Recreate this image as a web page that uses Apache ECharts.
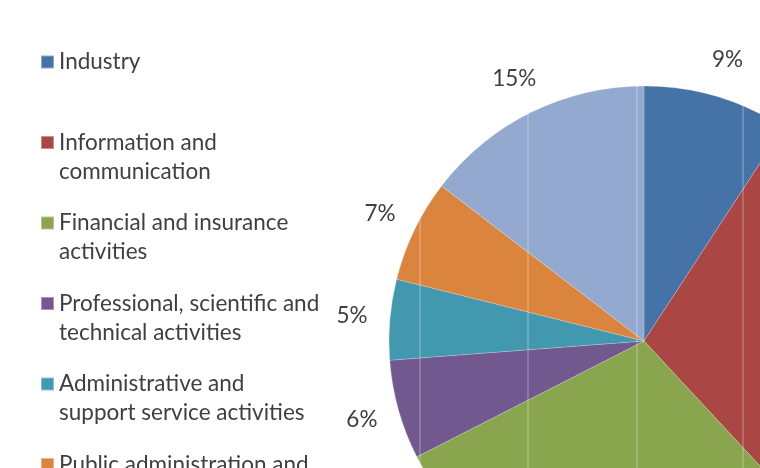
<!DOCTYPE html>
<html>
<head>
<meta charset="utf-8">
<script src="https://cdn.jsdelivr.net/npm/echarts@6/dist/echarts.min.js"></script>
<style>
  html, body { margin: 0; padding: 0; background: #fff; }
  #chart { width: 760px; height: 468px; }
</style>
</head>
<body>
<div id="chart"></div>
<script>
// Sectors (legend order, clockwise from 12 o'clock)
const sectors = [
  'Industry',
  'Information and\ncommunication',
  'Financial and insurance\nactivities',
  'Professional, scientific and\ntechnical activities',
  'Administrative and\nsupport service activities',
  'Public administration and\ndefence',
  'Other activities'
]
// shares in % (labels show them rounded)
const shares = [9.2, 28.9, 29.4, 6.3, 5.1, 6.5, 14.6]
const colors = ['#4572a7', '#aa4643', '#89a54e', '#71588f', '#4198af', '#db843d', '#93a9cf']

const pieData = sectors.map((name, i) => ({ name, value: shares[i] }))

const chart = echarts.init(document.getElementById('chart'))

// faint vertical streaks seen across the pie in the source image
const streaks = [420, 528, 637, 743].map(x => ({
  type: 'line',
  shape: { x1: x, y1: 0, x2: x, y2: 468 },
  style: { stroke: 'rgba(255,255,255,0.4)', lineWidth: 1 },
  z: 10,
  silent: true
}))

chart.setOption({
  animation: false,
  color: colors,
  legend: {
    orient: 'vertical',
    left: 40,
    top: 18.5,
    height: 2000,
    padding: 0,
    icon: 'rect',
    itemWidth: 13,
    itemHeight: 13,
    itemGap: -6.5,
    selectedMode: false,
    // leading blank line keeps the icon level with the first text line
    formatter: name => '\n' + (name.includes('\n') ? name : name + '\n '),
    textStyle: {
      fontFamily: 'Lato',
      fontSize: 22.5,
      color: '#404040',
      lineHeight: 29
    }
  },
  graphic: streaks,
  series: [
    {
      type: 'pie',
      center: [644, 341],
      radius: [0, 255],
      startAngle: 90,
      clockwise: true,
      silent: true,
      label: { show: false },
      labelLine: { show: false },
      itemStyle: { borderColor: 'rgba(255,255,255,0.4)', borderWidth: 0.5 },
      data: pieData
    },
    {
      // percentage labels sit on a ring just outside the pie
      type: 'pie',
      center: [644, 341],
      radius: [280, 300],
      startAngle: 90,
      clockwise: true,
      silent: true,
      legendHoverLink: false,
      percentPrecision: 0,
      itemStyle: { color: 'rgba(0,0,0,0)' },
      label: {
        show: true,
        position: 'inside',
        formatter: '{d}%',
        fontFamily: 'Lato',
        fontSize: 22.5,
        color: '#404040'
      },
      labelLine: { show: false },
      data: pieData
    }
  ]
})
</script>
</body>
</html>
